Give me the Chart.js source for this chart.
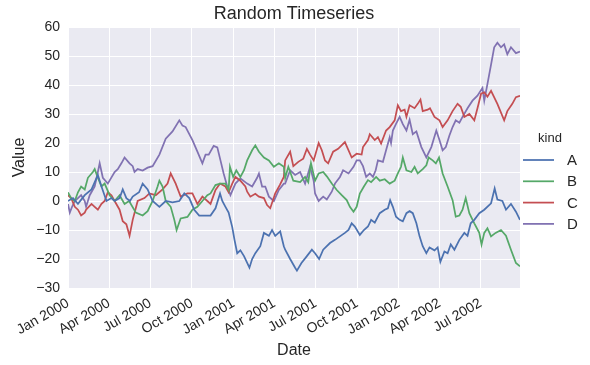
<!DOCTYPE html>
<html>
<head>
<meta charset="utf-8">
<script src="https://cdn.jsdelivr.net/npm/chart.js@4/dist/chart.umd.min.js"></script>
<style>
  html, body { margin: 0; padding: 0; background: #fff; }
  #wrap { width: 590px; height: 365px; }
</style>
</head>
<body>
<div id="wrap"><canvas id="tsChart" width="590" height="365"></canvas></div>
<script>
// days since 2000-01-01 and values
const aDays = [0,11,22,37,52,66,74,85,96,103,114,121,129,137,143,157,165,176,187,202,216,231,246,257,268,279,290,308,315,326,336,341,348,355,363,368,374,381,389,401,407,414,425,433,444,451,458,469,477,480,491,502,506,516,528,539,546,555,564,579,590,601,612,620,627,634,645,654,663,670,678,689,700,707,712,718,725,733,740,748,755,762,770,777,784,792,799,810,817,823,832,839,846,854,865,876,883,890,898,909,920,935,943,949,960,968,979,990,999];
const aVals = [0,1,-1,2,4,9,5,0,1,0,1,4,1,0,1.5,3,6,4,0,-2,0,-0.5,0,2.6,1,-3,-5,-5,-5,-2.5,2.6,0,-2,-4,-9,-13.4,-18,-17,-19,-23,-20,-18,-15.6,-11,-12,-10,-12,-10.5,-15.6,-16.8,-20,-23,-24,-21.4,-19,-16.8,-18,-20,-16.8,-14.5,-13.4,-12.2,-11,-10,-7.7,-8.8,-11.7,-10,-8.8,-6.5,-7.5,-4.2,-3,-2.5,0.3,-2,-5.4,-6.5,-7,-4.2,-3.5,-4.2,-7.7,-12.2,-15.6,-18,-16,-17,-16,-21,-17.4,-18,-15,-16.8,-13.4,-11,-12,-7.7,-6.5,-4.2,-3,-0.8,4.3,0.5,0,-3,-1,-3.7,-6.5];

const bDays = [0,7,15,22,29,37,44,55,59,66,74,81,92,103,114,125,135,150,165,176,187,198,202,209,216,227,235,240,249,264,275,286,297,308,315,326,336,348,355,358,365,372,381,389,396,407,414,422,433,444,455,466,477,480,487,498,513,524,531,537,546,554,564,572,583,594,605,616,623,631,638,645,654,663,670,681,689,700,711,722,729,736,740,748,759,766,773,784,792,797,806,813,820,828,839,850,857,865,872,879,887,898,909,914,920,927,935,945,957,968,979,990,999];
const bVals = [3,1,0,3,5,4,8,10,11,8,5,6,2,0,2,-1,0,-4,-5,-3.5,0,5,7,5,0,-2,-6.5,-10,-6,-5.5,-3,-2,0,2,2.6,5.5,6,6,3.8,11.8,8.3,10.6,8.3,10.6,14,17.5,19.2,17,15,14,11.8,13,11.8,8,11.8,7,6.5,8.3,6.5,13,7,9.5,10,8.5,6,3.8,2,0.3,-2,-3.7,-2,2.6,5,7.2,6.5,8.3,7,7.5,6,7,9.5,11.8,15,10.6,10,11.8,9.5,11,12.3,15,14,13,15,9.5,5,0.3,-5.4,-5,-3,1,-4.2,-7.7,-11,-15,-11,-9.4,-12.2,-11,-10,-12,-16.8,-21.4,-22.5];

const cDays = [0,7,15,22,29,37,40,52,59,66,74,81,88,96,103,114,121,129,136,143,154,169,180,194,209,220,227,238,249,264,275,286,297,308,315,326,336,348,355,363,370,381,392,396,403,414,422,433,440,447,458,468,477,480,491,498,509,520,528,535,543,554,561,568,575,586,597,612,627,638,649,652,663,667,678,685,692,703,711,722,729,736,744,748,755,766,773,779,784,795,800,810,821,828,839,850,861,868,876,887,898,905,913,920,927,935,949,964,971,982,990,999];
const cVals = [2,1,-2,-3,-5,-4,-3,-1,-2,-3,-1,0,3,2,0,-3,-7,-8,-12,-6.5,0,1,2.6,2,4,6,9.5,6,1.5,2.6,2.6,-1,1.5,0,-1,3.8,6,5,3,6,8.3,7,5,3.2,1.5,2.5,1.5,1,-1.4,-2.5,2.6,5.5,8.3,14,17,12,13.5,14.6,18,16,14,20,17.5,14,13,17,18,20.3,15,16.3,16,18.6,21,23,21,22,19.8,24.3,25.5,27.8,33,31,31.5,29,33,32,33.5,35,31,31.5,32,29,27.8,25.5,27.8,31,33.5,32.5,29,30,27.8,32,37,37.5,36,38,33.5,27.8,31,33.5,35.8,36.3];

const dDays = [0,4,9,15,22,29,37,40,48,59,66,70,77,88,103,110,118,125,136,143,147,154,165,176,187,202,216,231,246,253,260,275,286,297,304,311,322,330,337,344,352,359,370,381,396,407,418,422,429,436,444,455,466,477,480,491,502,513,524,535,543,546,554,564,572,583,590,601,608,620,631,638,645,652,659,667,674,680,685,696,703,711,714,718,725,733,740,748,755,762,770,781,792,803,814,821,828,835,843,850,857,865,872,883,894,905,916,920,927,935,942,949,957,964,971,979,990,999];
const dVals = [-1,-4,-2,0,1,2,0,-2,2,5,10,13,8,6,10,11,13,15,13,12,10,11,10.5,11.5,12,16,21.5,24,27.8,26,25.5,21,17,13,16,16,19,18.5,14,9.5,5,2,6,7.8,6,5,8,9.5,5,5,1.5,0,3.8,6,6,10.6,9,10,6,11.8,7,2.6,0,1.5,0.5,3.2,6,8.3,10.6,9.5,11.8,14,14,12,8.3,9.5,8.3,10.6,14,13.5,17.5,22,20,24.3,26.6,29,26.5,24.3,28,23,24,18.6,15,18.6,24.3,21,17.5,18.6,22.6,25.5,27.8,27,29,32,34.6,36.3,39,34.6,40.3,47,53,54.6,53,54,50.6,53,51,51.5];

const seriesNames = ["A", "B", "C", "D"];
const seriesColors = ["#4C72B0", "#55A868", "#C44E52", "#8172B2"];

const tickDays = [0, 91, 182, 274, 366, 456, 547, 639, 731, 821, 912];
const tickLabels = ["Jan 2000", "Apr 2000", "Jul 2000", "Oct 2000", "Jan 2001", "Apr 2001",
  "Jul 2001", "Oct 2001", "Jan 2002", "Apr 2002", "Jul 2002"];

const yTicks = [-30, -20, -10, 0, 10, 20, 30, 40, 50, 60];

const textColor = "#262626";
const fontFam = "'Liberation Sans', Arial, sans-serif";

function toPoints(days, vals) {
  return days.map((d, i) => ({ x: d, y: vals[i] }));
}

const allDays = [aDays, bDays, cDays, dDays];
const allVals = [aVals, bVals, cVals, dVals];

const datasets = seriesNames.map((name, i) => ({
  label: name,
  data: toPoints(allDays[i], allVals[i]),
  borderColor: seriesColors[i],
  borderWidth: 1.75,
  pointRadius: 0,
  tension: 0,
  fill: false
}));

// grey plot background
const bgPlugin = {
  id: "bg",
  beforeDraw(chart) {
    const { ctx, chartArea: a } = chart;
    ctx.save();
    ctx.fillStyle = "#EAEAF2";
    ctx.fillRect(a.left, a.top, a.right - a.left, a.bottom - a.top);
    ctx.restore();
  }
};

// title over the plot area + legend box on the right, like seaborn's
const titleLegendPlugin = {
  id: "kindLegend",
  afterDraw(chart) {
    const ctx = chart.ctx;
    const a = chart.chartArea;
    ctx.save();
    ctx.fillStyle = textColor;
    ctx.textBaseline = "middle";
    ctx.textAlign = "center";
    ctx.font = "18px " + fontFam;
    ctx.fillText("Random Timeseries", (a.left + a.right) / 2, 14);

    ctx.font = "13px " + fontFam;
    ctx.fillText("kind", 550, 138);
    ctx.font = "15px " + fontFam;
    ctx.textAlign = "left";
    chart.data.datasets.forEach((ds, i) => {
      const y = 160 + i * 21.3;
      ctx.strokeStyle = ds.borderColor;
      ctx.lineWidth = 1.75;
      ctx.beginPath();
      ctx.moveTo(523, y);
      ctx.lineTo(554, y);
      ctx.stroke();
      ctx.fillStyle = textColor;
      ctx.fillText(ds.label, 567, y + 1);
    });
    ctx.restore();
  }
};

new Chart(document.getElementById("tsChart"), {
  type: "line",
  data: { datasets },
  options: {
    responsive: false,
    animation: false,
    layout: { padding: { top: 27, right: 70, left: 0, bottom: 0 } },
    plugins: {
      legend: { display: false },
      tooltip: { enabled: false },
      title: { display: false }
    },
    scales: {
      x: {
        type: "linear",
        min: 0,
        max: 999,
        afterBuildTicks(scale) {
          scale.ticks = tickDays.map(v => ({ value: v }));
        },
        afterFit(scale) { scale.height = 77; },
        ticks: {
          autoSkip: false,
          minRotation: 30,
          maxRotation: 30,
          padding: 7,
          color: textColor,
          font: { family: fontFam, size: 14 },
          callback(v) {
            const i = tickDays.indexOf(v);
            return i >= 0 ? tickLabels[i] : "";
          }
        },
        grid: { color: "#ffffff", lineWidth: 1, drawTicks: false },
        border: { display: false },
        title: {
          display: true,
          text: "Date",
          color: textColor,
          font: { family: fontFam, size: 16 },
          padding: { top: 0, bottom: 5 }
        }
      },
      y: {
        min: -30,
        max: 60,
        afterBuildTicks(scale) {
          scale.ticks = yTicks.map(v => ({ value: v }));
        },
        afterFit(scale) { scale.width = 68; },
        ticks: {
          padding: 8,
          color: textColor,
          font: { family: fontFam, size: 14 },
          callback(v) { return String(v).replace("-", "\u2212"); }
        },
        grid: { color: "#ffffff", lineWidth: 1, drawTicks: false },
        border: { display: false },
        title: {
          display: true,
          text: "Value",
          color: textColor,
          font: { family: fontFam, size: 16 },
          padding: { top: 10, bottom: 0 }
        }
      }
    }
  },
  plugins: [bgPlugin, titleLegendPlugin]
});
</script>
</body>
</html>
